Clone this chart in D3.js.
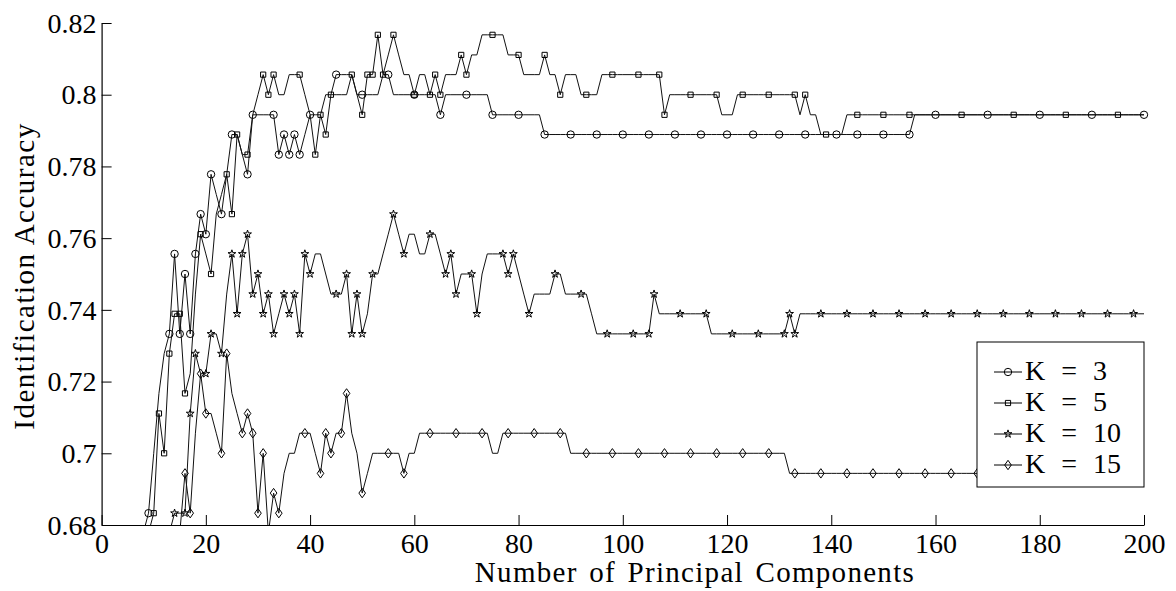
<!DOCTYPE html>
<html>
<head>
<meta charset="utf-8">
<script src="https://cdn.jsdelivr.net/npm/d3@7"></script>
<style>
html,body{margin:0;padding:0;background:#fff;}
svg{display:block;}
</style>
</head>
<body>
<svg id="chart" width="1176" height="591"></svg>
<script>
// ---------------- data ----------------
const seriesNames = ["K = 3", "K = 5", "K = 10", "K = 15"];
const xTicks = [0, 20, 40, 60, 80, 100, 120, 140, 160, 180, 200];
const xTickLabels = ["0","20","40","60","80","100","120","140","160","180","200"];
const yTicks = [0.68, 0.70, 0.72, 0.74, 0.76, 0.78, 0.80, 0.82];
const yTickLabels = ["0.68","0.7","0.72","0.74","0.76","0.78","0.8","0.82"];

// K = 3 : accuracy at PC 8..200
const k3Start = 8;
const k3Acc = [
.6778,.6833,.7000,.7167,.7278,.7333,.7556,.7333,.7500,.7333,
.7556,.7667,.7611,.7778,.7722,.7667,.7778,.7889,.7889,.7833,
.7778,.7944,.7944,.7944,.7944,.7944,.7833,.7889,.7833,.7889,
.7833,.7889,.7944,.7944,.7944,.8000,.8000,.8056,.8056,.8056,
.8056,.8000,.8000,.8000,.8000,.8000,.8056,.8056,.8000,.8000,
.8000,.8000,.8000,.8000,.8000,.8000,.8000,.7944,.8000,.8000,
.8000,.8000,.8000,.8000,.8000,.8000,.8000,.7944,.7944,.7944,
.7944,.7944,.7944,.7944,.7944,.7944,.7944,.7889,.7889,.7889,
.7889,.7889,.7889,.7889,.7889,.7889,.7889,.7889,.7889,.7889,
.7889,.7889,.7889,.7889,.7889,.7889,.7889,.7889,.7889,.7889,
.7889,.7889,.7889,.7889,.7889,.7889,.7889,.7889,.7889,.7889,
.7889,.7889,.7889,.7889,.7889,.7889,.7889,.7889,.7889,.7889,
.7889,.7889,.7889,.7889,.7889,.7889,.7889,.7889,.7889,.7889,
.7889,.7889,.7889,.7889,.7889,.7889,.7889,.7889,.7889,.7889,
.7889,.7889,.7889,.7889,.7889,.7889,.7889,.7889,
.7944,.7944,.7944,.7944,.7944,.7944,.7944,.7944,.7944,.7944,
.7944,.7944,.7944,.7944,.7944,.7944,.7944,.7944,.7944,.7944,
.7944,.7944,.7944,.7944,.7944,.7944,.7944,.7944,.7944,.7944,
.7944,.7944,.7944,.7944,.7944,.7944,.7944,.7944,.7944,.7944,
.7944,.7944,.7944,.7944,.7944
];
const k3Marks = [9,13,14,15,16,17,18,19,20,21,23,25,28,29,33,34,35,36,37,38,40,45,50,55,60,65,70,75,80,85,90,95,100,105,110,115,120,125,130,135,141,145,150,155,160,170,180,190,200];

// K = 5 : accuracy at PC 9..200
const k5Start = 9;
const k5Acc = [
.6778,.6833,.7111,.7000,.7278,.7389,.7389,.7167,.7222,.7444,
.7611,.7556,.7500,.7667,.7722,.7778,.7667,.7889,.7833,.7833,
.7944,.8000,.8056,.8000,.8056,.8000,.8000,.8056,.8056,.8056,
.8000,.7944,.7833,.7944,.7889,.8000,.8000,.8000,.8000,.8056,
.8000,.7944,.8056,.8056,.8167,.8056,.8111,.8167,.8111,.8056,
.8056,.8000,.8056,.8056,.8000,.8056,.8000,.8056,.8056,.8056,
.8111,.8056,.8111,.8111,.8167,.8167,.8167,.8167,.8167,.8111,
.8111,.8111,.8056,.8056,.8056,.8056,.8111,.8056,.8056,.8000,
.8056,.8056,.8056,.8000,.8000,.8000,.8000,.8056,.8056,.8056,
.8056,.8056,.8056,.8056,.8056,.8056,.8056,.8056,.8056,.7944,
.8000,.8000,.8000,.8000,.8000,.8000,.8000,.8000,.8000,.8000,
.7944,.7944,.7944,.8000,.8000,.8000,.8000,.8000,.8000,.8000,
.8000,.8000,.8000,.8000,.8000,.7944,.8000,.7944,.7944,.7889,
.7889,.7889,.7889,.7889,.7944,.7944,.7944,.7944,.7944,.7944,
.7944,.7944,.7944,.7944,.7944,.7944,.7944,.7944,.7944,.7944,
.7944,.7944,.7944,.7944,.7944,.7944,.7944,.7944,.7944,.7944,
.7944,.7944,.7944,.7944,.7944,.7944,.7944,.7944,.7944,.7944,
.7944,.7944,.7944,.7944,.7944,.7944,.7944,.7944,.7944,.7944,
.7944,.7944,.7944,.7944,.7944,.7944,.7944,.7944,.7944,.7944,
.7944,.7944
];
const k5Marks = [10,11,12,13,14,15,16,19,21,24,25,26,28,31,32,33,38,41,42,43,44,48,50,51,52,53,54,56,60,63,64,65,69,70,75,80,85,88,93,98,103,107,108,113,118,123,128,133,135,139,145,150,155,165,175,185,195];

// K = 10 : accuracy at PC 13..200
const k10Start = 13;
const k10Acc = [
.6778,.6833,.6833,.6833,.7111,.7278,.7222,.7222,.7333,.7333,
.7278,.7444,.7556,.7389,.7556,.7611,.7444,.7500,.7389,.7444,
.7333,.7389,.7444,.7389,.7444,.7333,.7556,.7500,.7556,.7556,
.7500,.7444,.7444,.7444,.7500,.7333,.7444,.7333,.7389,.7500,
.7500,.7556,.7611,.7667,.7611,.7556,.7611,.7611,.7556,.7556,
.7611,.7611,.7556,.7500,.7556,.7444,.7500,.7500,.7500,.7389,
.7500,.7556,.7556,.7556,.7556,.7500,.7556,.7500,.7444,.7389,
.7444,.7444,.7444,.7444,.7500,.7500,.7444,.7444,.7444,.7444,
.7444,.7389,.7333,.7333,.7333,.7333,.7333,.7333,.7333,.7333,
.7333,.7333,.7333,.7444,.7389,.7389,.7389,.7389,.7389,.7389,
.7389,.7389,.7389,.7389,.7333,.7333,.7333,.7333,.7333,.7333,
.7333,.7333,.7333,.7333,.7333,.7333,.7333,.7333,.7333,.7389,
.7333,.7389,.7389,.7389,.7389,.7389,.7389,.7389,.7389,.7389,
.7389,.7389,.7389,.7389,.7389,.7389,.7389,.7389,.7389,.7389,
.7389,.7389,.7389,.7389,.7389,.7389,.7389,.7389,.7389,.7389,
.7389,.7389,.7389,.7389,.7389,.7389,.7389,.7389,.7389,.7389,
.7389,.7389,.7389,.7389,.7389,.7389,.7389,.7389,.7389,.7389,
.7389,.7389,.7389,.7389,.7389,.7389,.7389,.7389,.7389,.7389,
.7389,.7389,.7389,.7389,.7389,.7389,.7389,.7389
];
const k10Marks = [14,16,17,18,20,21,23,25,26,27,28,29,30,31,32,33,35,36,37,38,39,40,45,47,48,49,50,52,56,58,63,66,67,68,71,72,77,78,79,82,87,92,97,102,105,106,111,116,121,126,131,132,133,138,143,148,153,158,163,168,173,178,183,188,193,198];

// K = 15 : accuracy at PC 15..200
const k15Start = 15;
const k15Acc = [
.6778,.6944,.6833,.7056,.7222,.7111,.7111,.7056,.7000,.7278,
.7167,.7111,.7056,.7111,.7056,.6833,.7000,.6778,.6889,.6833,
.6944,.7000,.7000,.7056,.7056,.7056,.7000,.6944,.7056,.7000,
.7056,.7056,.7167,.7056,.7000,.6889,.6944,.7000,.7000,.7000,
.7000,.7000,.7000,.6944,.7000,.7000,.7056,.7056,.7056,.7056,
.7056,.7056,.7056,.7056,.7056,.7056,.7056,.7056,.7056,.7056,
.7000,.7000,.7056,.7056,.7056,.7056,.7056,.7056,.7056,.7056,
.7056,.7056,.7056,.7056,.7056,.7000,.7000,.7000,.7000,.7000,
.7000,.7000,.7000,.7000,.7000,.7000,.7000,.7000,.7000,.7000,
.7000,.7000,.7000,.7000,.7000,.7000,.7000,.7000,.7000,.7000,
.7000,.7000,.7000,.7000,.7000,.7000,.7000,.7000,.7000,.7000,
.7000,.7000,.7000,.7000,.7000,.7000,.7000,.6944,.6944,.6944,
.6944,.6944,.6944,.6944,.6944,.6944,.6944,.6944,.6944,.6944,
.6944,.6944,.6944,.6944,.6944,.6944,.6944,.6944,.6944,.6944,
.6944,.6944,.6944,.6944,.6944,.6944,.6944,.6944,.6944,.6944,
.6944,.6944,.6944,.6944,.6944,.6944,.6944,.6944,.6944,.6944,
.6944,.6944,.6944,.6944,.6944,.6944,.6944,.6944,.6944,.6944,
.6944,.6944,.6944,.6944,.6944,.6944,.6944,.6944,.6944,.6944,
.6944,.6944,.6944,.6944,.6944,.6944
];
const k15Marks = [16,17,19,20,23,24,27,28,29,30,31,33,34,39,42,43,44,46,47,50,55,58,63,68,73,78,83,88,93,98,103,108,113,118,123,128,133,138,143,148,153,158,163,168,173,178,183,188,193,198];

// ---------------- chart ----------------
const SERIF = '"Liberation Serif", "DejaVu Serif", "Times New Roman", Times, serif';
const svg = d3.select("#chart").style("font-family", SERIF);
const X0 = 101.6, X1 = 1144, Y0 = 525, Y1 = 23;
const x = d3.scaleLinear().domain([0, 200]).range([X0, X1]);
const y = d3.scaleLinear().domain([0.68, 0.82]).range([Y0, Y1]);
const FONT = 28;

const series = [
  {name: seriesNames[0], start: k3Start, acc: k3Acc, marks: k3Marks, shape: "circle"},
  {name: seriesNames[1], start: k5Start, acc: k5Acc, marks: k5Marks, shape: "square"},
  {name: seriesNames[2], start: k10Start, acc: k10Acc, marks: k10Marks, shape: "star"},
  {name: seriesNames[3], start: k15Start, acc: k15Acc, marks: k15Marks, shape: "diamond"}
];

function markerPath(shape) {
  if (shape === "circle") return d3.symbol(d3.symbolCircle, Math.PI * 3.7 * 3.7)();
  if (shape === "square") return d3.symbol(d3.symbolSquare, 5.2 * 5.2)();
  if (shape === "star") return d3.symbol(d3.symbolStar, 19)();
  return "M0,-4.7L3.3,0L0,4.7L-3.3,0Z";
}

svg.append("defs").append("clipPath").attr("id", "plotClip")
  .append("rect").attr("x", X0).attr("y", Y1 - 10).attr("width", X1 - X0 + 10).attr("height", Y0 - Y1 + 10);

const line = d3.line().x(d => x(d[0])).y(d => y(d[1]));

const plot = svg.append("g");
series.forEach(s => {
  const pts = s.acc.map((v, i) => [s.start + i, v]);
  plot.append("path")
    .attr("d", line(pts))
    .attr("fill", "none")
    .attr("stroke", "#111")
    .attr("stroke-width", 1)
    .attr("clip-path", "url(#plotClip)");
  const mp = markerPath(s.shape);
  plot.append("g").selectAll("path").data(s.marks).join("path")
    .attr("d", mp)
    .attr("transform", pc => `translate(${x(pc)},${y(s.acc[pc - s.start])})`)
    .attr("fill", "none")
    .attr("stroke", "#000")
    .attr("stroke-width", 1);
});

// axes
const xAxis = d3.axisBottom(x).tickValues(xTicks).tickSizeInner(-10).tickSizeOuter(0)
  .tickFormat((d, i) => xTickLabels[i]);
const gx = svg.append("g").attr("transform", `translate(0,${Y0})`).call(xAxis)
  .attr("font-family", SERIF).attr("font-size", FONT);
gx.selectAll("text").attr("y", 28).attr("dy", 0);

const yAxis = d3.axisLeft(y).tickValues(yTicks).tickSizeInner(-10).tickSizeOuter(0)
  .tickFormat((d, i) => yTickLabels[i]);
const gy = svg.append("g").attr("transform", `translate(${X0},0)`).call(yAxis)
  .attr("font-family", SERIF).attr("font-size", FONT);
gy.selectAll("text").attr("x", -5).attr("dy", "0.33em");

[gx, gy].forEach(g => {
  g.select(".domain").attr("stroke", "#000").attr("stroke-width", 1.2);
  g.selectAll(".tick line").attr("stroke", "#000").attr("stroke-width", 1);
});

// axis titles
svg.append("text")
  .attr("x", 695).attr("y", 582)
  .attr("text-anchor", "middle").attr("font-family", SERIF).attr("font-size", 29)
  .attr("letter-spacing", 1.3).attr("word-spacing", 3)
  .text("Number of Principal Components");
svg.append("text")
  .attr("transform", `translate(34,276) rotate(-90)`)
  .attr("text-anchor", "middle").attr("font-family", SERIF).attr("font-size", 29)
  .attr("letter-spacing", 1.5)
  .text("Identification Accuracy");

// legend
const lg = svg.append("g");
lg.append("rect").attr("x", 977).attr("y", 342).attr("width", X1 - 977).attr("height", 145)
  .attr("fill", "#fff").attr("stroke", "#000").attr("stroke-width", 1);
series.forEach((s, i) => {
  const by = 380 + i * 31;
  const ly = by - 8;
  lg.append("line").attr("x1", 994).attr("x2", 1022).attr("y1", ly).attr("y2", ly)
    .attr("stroke", "#000").attr("stroke-width", 1);
  lg.append("path").attr("d", markerPath(s.shape))
    .attr("transform", `translate(1008,${ly})`)
    .attr("fill", "none").attr("stroke", "#000").attr("stroke-width", 1);
  lg.append("text").attr("x", 1025).attr("y", by)
    .attr("font-family", SERIF).attr("font-size", FONT).attr("word-spacing", 9).text(s.name);
});
</script>
</body>
</html>
